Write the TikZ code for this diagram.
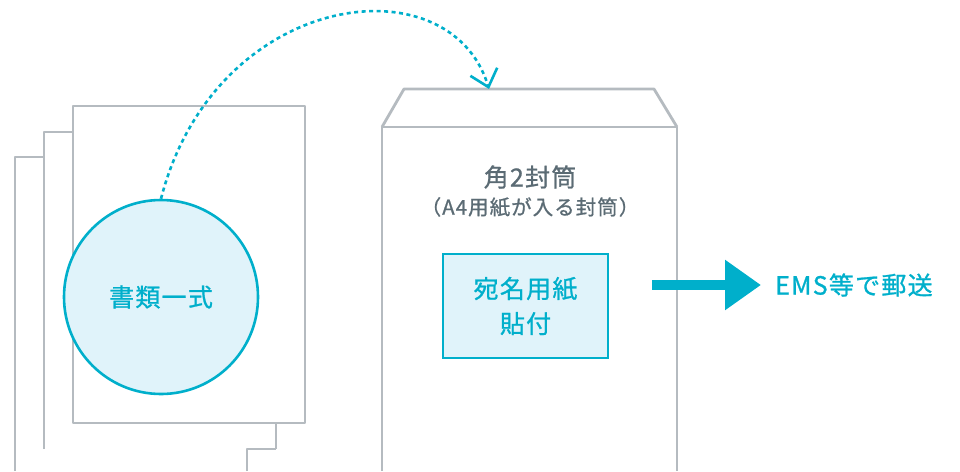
\documentclass[tikz,border=0pt]{standalone}
\usepackage{fontspec}
\setmainfont{Noto Sans CJK JP}[FakeBold=0.9, LetterSpace=5]
\usetikzlibrary{arrows.meta}
\definecolor{cy}{HTML}{00AFCB}
\definecolor{cyfill}{HTML}{E0F3FA}
\definecolor{gl}{HTML}{B5BBC0}
\definecolor{gt}{HTML}{5B6B74}
\tikzset{
  paper/.style={draw=gl, line width=2.8pt, line join=round},
  lbl/.style={font=\fontsize{25}{29}\selectfont, inner sep=0pt},
}
\begin{document}
\begin{tikzpicture}[x=1pt,y=-1pt]
\useasboundingbox (0,0) rectangle (960,471);
% papers
\draw[paper] (15,471) -- (15,157) -- (44,157);
\draw[paper] (247,471) -- (247,449) -- (276,449);
\draw[paper] (44,449) -- (44,132) -- (73,132);
\draw[paper] (276,449) -- (276,423);
\draw[paper] (73,106) rectangle (305,423);
% circle
\node[circle, draw=cy, fill=cyfill, line width=2.6pt, minimum size=194pt, inner sep=0pt,
      text=cy, font=\fontsize{25}{29}\selectfont] (docs) at (161,297) {書類一式};
% envelope
\draw[paper] (382,471) -- (382,127) -- (677,127) -- (677,471);
\draw[paper] (382,127) -- (404,89) -- (654,89) -- (677,127);
\coordinate (envtop) at (489,89);
\node[lbl, text=gt] (kaku) at (530,177) {角2封筒};
\node[inner sep=0pt, text=gt, font=\fontsize{20.5}{24}\selectfont] (a4) at (530,207) {（A4用紙が入る封筒）};
\node[draw=cy, fill=cyfill, line width=2.6pt, minimum width=165pt, minimum height=104pt,
      text=cy, align=center, font=\fontsize{25}{35}\selectfont] (label) at (525.5,306) {宛名用紙\\貼付};
% dashed connector
\draw[cy, line width=2.6pt, dash pattern=on 4pt off 3.5pt,
      -{Straight Barb[length=16pt,width=28pt,line width=2.6pt]}]
  (docs.north) .. controls (215,-10) and (450,-40) .. (envtop);
% big arrow
\coordinate (arrS) at (652,285);
\node[lbl, text=cy, anchor=west] (ems) at (775,285) {EMS等で郵送};
\draw[cy, line width=10pt, -{Triangle[length=36pt,width=48pt]}, shorten >=14pt] (arrS) -- (ems.west);
\end{tikzpicture}
\end{document}
